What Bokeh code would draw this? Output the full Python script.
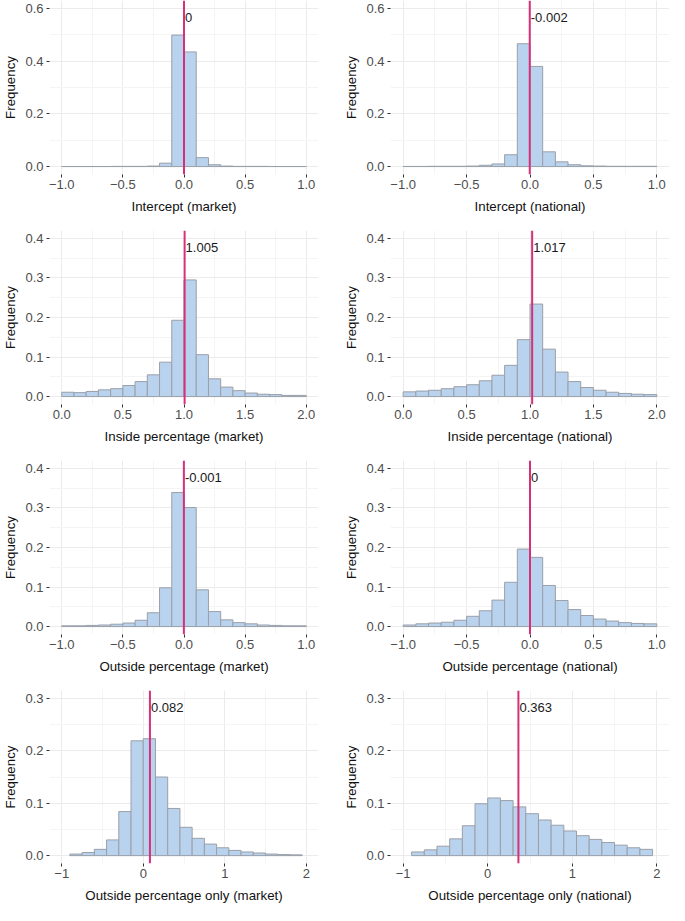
from bokeh.plotting import figure
from bokeh.layouts import gridplot
from bokeh.models import FixedTicker, Span, ColumnDataSource, Range1d
from bokeh.core.properties import value
from bokeh.embed import file_html
from bokeh.resources import INLINE

FONT = "Liberation Sans"

# ---- data: relative frequencies per bin ----
intercept_market = [0.0004, 0.0004, 0.0004, 0.0004, 0.0008, 0.0008, 0.0008, 0.002, 0.013, 0.499,
                    0.435, 0.034, 0.007, 0.002, 0.0008, 0.0008, 0.0008, 0.0004, 0.0004, 0.0004]
intercept_national = [0.0006, 0.0006, 0.001, 0.001, 0.001, 0.002, 0.005, 0.010, 0.045, 0.466,
                      0.380, 0.056, 0.018, 0.007, 0.003, 0.002, 0.001, 0.001, 0.001, 0.001]
inside_market = [0.011, 0.010, 0.013, 0.017, 0.020, 0.028, 0.038, 0.055, 0.087, 0.193,
                 0.295, 0.106, 0.045, 0.024, 0.015, 0.009, 0.006, 0.005, 0.003, 0.003]
inside_national = [0.012, 0.014, 0.016, 0.020, 0.025, 0.030, 0.040, 0.054, 0.079, 0.144,
                   0.234, 0.120, 0.062, 0.038, 0.023, 0.016, 0.011, 0.008, 0.006, 0.005]
outside_market = [0.002, 0.002, 0.003, 0.004, 0.006, 0.009, 0.016, 0.035, 0.098, 0.339,
                  0.301, 0.093, 0.038, 0.017, 0.010, 0.007, 0.004, 0.003, 0.002, 0.002]
outside_national = [0.004, 0.007, 0.009, 0.011, 0.016, 0.026, 0.040, 0.067, 0.112, 0.196,
                    0.175, 0.104, 0.066, 0.043, 0.028, 0.019, 0.014, 0.010, 0.008, 0.007]
outside_only_market = [0.003, 0.006, 0.012, 0.030, 0.084, 0.219, 0.223, 0.150, 0.090, 0.054,
                       0.033, 0.022, 0.015, 0.010, 0.007, 0.005, 0.003, 0.002, 0.0015]
outside_only_national = [0.007, 0.011, 0.018, 0.032, 0.057, 0.099, 0.110, 0.105, 0.093, 0.080,
                         0.068, 0.058, 0.047, 0.038, 0.031, 0.025, 0.020, 0.015, 0.012]

# bin layout: start of first bin and bin width
bin_starts = [-1.0, -1.0, 0.0, 0.0, -1.0, -1.0, -0.9, -0.9]
bin_widths = [0.1, 0.1, 0.1, 0.1, 0.1, 0.1, 0.15, 0.15]

means = [0.0, -0.002, 1.005, 1.017, -0.001, 0.0, 0.082, 0.363]
mean_labels = ["0", "-0.002", "1.005", "1.017", "-0.001", "0", "0.082", "0.363"]

titles = ["Intercept (market)", "Intercept (national)",
          "Inside percentage (market)", "Inside percentage (national)",
          "Outside percentage (market)", "Outside percentage (national)",
          "Outside percentage only (market)", "Outside percentage only (national)"]

# axis tick specs per row
x_limits = [(-1, 1), (0, 2), (-1, 1), (-1, 2)]
x_ticks = [[-1, -0.5, 0, 0.5, 1], [0, 0.5, 1, 1.5, 2], [-1, -0.5, 0, 0.5, 1], [-1, 0, 1, 2]]
x_tick_labels = [["\u22121.0", "\u22120.5", "0.0", "0.5", "1.0"],
                 ["0.0", "0.5", "1.0", "1.5", "2.0"],
                 ["\u22121.0", "\u22120.5", "0.0", "0.5", "1.0"],
                 ["\u22121", "0", "1", "2"]]
x_minor = [[-0.75, -0.25, 0.25, 0.75], [0.25, 0.75, 1.25, 1.75],
           [-0.75, -0.25, 0.25, 0.75], [-0.5, 0.5, 1.5]]
y_limits = [(0, 0.6), (0, 0.4), (0, 0.4), (0, 0.3)]
y_ticks = [[0, 0.2, 0.4, 0.6], [0, 0.1, 0.2, 0.3, 0.4], [0, 0.1, 0.2, 0.3, 0.4], [0, 0.1, 0.2, 0.3]]
y_tick_labels = [["0.0", "0.2", "0.4", "0.6"], ["0.0", "0.1", "0.2", "0.3", "0.4"],
                 ["0.0", "0.1", "0.2", "0.3", "0.4"], ["0.0", "0.1", "0.2", "0.3"]]
y_minor = [[0.1, 0.3, 0.5], [0.05, 0.15, 0.25, 0.35], [0.05, 0.15, 0.25, 0.35], [0.05, 0.15, 0.25]]

series = [intercept_market, intercept_national, inside_market, inside_national,
          outside_market, outside_national, outside_only_market, outside_only_national]

BAR_FILL = "#B9D3EE"
BAR_LINE = "#9A9FA8"
VLINE = "#D6307A"
GRID = "#EBEBEB"
MINOR = "#F4F4F4"

ROW_HEIGHTS = [230, 230, 230, 215]
ROW_BOTTOM = [56, 56, 56, 41]


def make_panel(i):
    r = i // 2
    c = i % 2
    x0, x1 = x_limits[r]
    xp = 0.05 * (x1 - x0)
    y0, y1 = y_limits[r]
    yp = 0.05 * (y1 - y0)
    if c == 0:
        w, mbl, mbr = 326, 0, 8
    else:
        w, mbl, mbr = 343, 64, 0
    p = figure(width=w, height=ROW_HEIGHTS[r], output_backend="svg", toolbar_location=None,
               x_range=Range1d(x0 - xp, x1 + xp), y_range=Range1d(y0 - yp, y1 + yp),
               min_border_left=mbl, min_border_right=mbr, min_border_top=0,
               min_border_bottom=ROW_BOTTOM[r])
    p.outline_line_color = None
    p.background_fill_color = "white"

    vals = series[i]
    lefts = [bin_starts[i] + k * bin_widths[i] for k in range(len(vals))]
    rights = [l + bin_widths[i] for l in lefts]
    src = ColumnDataSource(dict(left=lefts, right=rights, top=vals, bottom=[0] * len(vals)))
    p.quad(left="left", right="right", top="top", bottom="bottom", source=src,
           fill_color=BAR_FILL, line_color=BAR_LINE, line_width=1)

    p.add_layout(Span(location=means[i], dimension="height", line_color=VLINE, line_width=2))
    p.text(x=[means[i]], y=[0.94 * y1], text=[mean_labels[i]], text_align="left",
           text_baseline="middle", x_offset=1, text_font=value(FONT),
           text_font_size=value("13px"), text_color="#1a1a1a")

    # axes
    p.xaxis.ticker = FixedTicker(ticks=x_ticks[r], minor_ticks=x_minor[r])
    p.yaxis.ticker = FixedTicker(ticks=y_ticks[r], minor_ticks=y_minor[r])
    p.xaxis.major_label_overrides = {t: l for t, l in zip(x_ticks[r], x_tick_labels[r])}
    p.yaxis.major_label_overrides = {t: l for t, l in zip(y_ticks[r], y_tick_labels[r])}
    for ax in (p.xaxis[0], p.yaxis[0]):
        ax.axis_line_color = None
        ax.major_tick_line_color = "#333333"
        ax.major_tick_out = 3
        ax.major_tick_in = 0
        ax.minor_tick_line_color = None
        ax.major_label_text_font = FONT
        ax.major_label_text_font_size = "13px"
        ax.major_label_text_color = "#4D4D4D"
        ax.major_label_standoff = 2
        ax.axis_label_text_font = FONT
        ax.axis_label_text_font_size = "13.3px"
        ax.axis_label_text_font_style = "normal"
        ax.axis_label_text_color = "#111111"
    p.xaxis.axis_label = titles[i]
    p.xaxis.axis_label_standoff = 7
    p.xaxis.major_label_standoff = 1
    p.yaxis.axis_label = "Frequency"
    p.yaxis.axis_label_standoff = 4

    p.xgrid.grid_line_color = GRID
    p.ygrid.grid_line_color = GRID
    p.xgrid.minor_grid_line_color = MINOR
    p.ygrid.minor_grid_line_color = MINOR
    return p


panels = [make_panel(i) for i in range(8)]
grid = [[panels[0], panels[1]], [panels[2], panels[3]],
        [panels[4], panels[5]], [panels[6], panels[7]]]
layout = gridplot(grid, toolbar_location=None)

open("out.html", "w").write(file_html(layout, INLINE))
